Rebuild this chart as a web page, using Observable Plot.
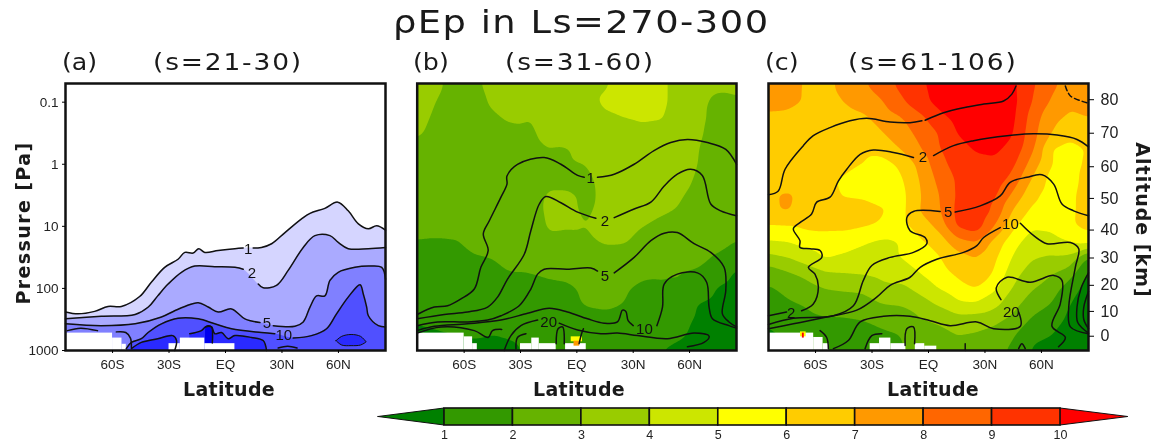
<!DOCTYPE html>
<html><head><meta charset="utf-8">
<script src="https://cdn.jsdelivr.net/npm/d3@7"></script>
<script src="https://cdn.jsdelivr.net/npm/@observablehq/plot@0.6"></script>
<style>
html,body{margin:0;padding:0;background:#fff}
#page{position:relative;width:1158px;height:445px;overflow:hidden;filter:blur(0.6px)}
#page svg{position:absolute;left:0;top:0}
.t{position:absolute;white-space:nowrap;font-family:"DejaVu Sans",sans-serif;color:#1a1a1a;line-height:1}
</style></head><body><div id="page"></div>
<script>
// ---- axis values
const latTicks=[-60,-30,0,30,60];
const latNames=["60S","30S","EQ","30N","60N"];
const pressureTicks=[0.1,1,10,100,1000];
const altitudeKm=[80,70,60,50,40,30,20,10,0];
const altitudeLogP=[-1.04,-0.50,0.04,0.55,1.06,1.51,1.95,2.37,2.77];
const barLevels=[1,2,3,4,5,6,7,8,9,10];
const barColors=["#008000","#339900","#66b300","#99cc00","#cce600","#ffff00","#ffcc00","#ff9900","#ff6600","#ff3300","#ff0000"];
// ---- grid of rho*Ep
const gridLat=[-85,-75,-65,-55,-45,-35,-25,-15,-5,5,15,25,35,45,55,65,75,85];
const gridLogP=[-1.31,-1,-0.75,-0.5,-0.25,0,0.25,0.5,0.75,1,1.25,1.5,1.75,2,2.25,2.5,2.75,3];
const fieldB=[
[3.4,3.2,2.7,2.8,3.3,3.5,3.6,3.7,3.7,3.8,3.9,4.3,4.4,4.15,3.7,3.4,3.2,3.2],
[3.3,3.0,2.6,2.7,3.1,3.4,3.5,3.6,3.7,3.8,4.1,4.4,4.4,4.15,3.7,3.2,2.8,2.9],
[3.2,2.9,2.5,2.6,2.9,3.1,3.0,3.3,3.6,3.8,3.9,3.97,4.1,4.05,3.6,3.2,2.7,2.8],
[3.1,2.8,2.5,2.5,2.7,2.8,2.9,3.2,3.5,3.7,3.8,3.8,3.8,3.7,3.5,3.1,2.7,2.7],
[2.8,2.7,2.5,2.5,2.6,2.7,2.8,3.0,2.95,3.3,3.6,3.7,3.7,3.6,3.4,3.0,2.7,2.6],
[2.7,2.6,2.5,2.4,2.5,2.6,2.7,2.8,2.9,3.0,3.4,3.6,3.6,3.5,3.3,2.98,2.6,2.6],
[2.6,2.5,2.4,2.4,2.4,2.5,2.6,2.8,2.8,2.9,3.15,3.5,3.6,3.5,3.2,2.9,2.6,2.6],
[2.6,2.5,2.4,2.4,2.4,2.5,2.6,3.1,3.1,2.9,3.1,3.4,3.5,3.3,3.05,2.8,2.5,2.4],
[2.5,2.5,2.4,2.4,2.4,2.4,2.5,3.2,3.15,2.9,3.2,3.3,3.4,3.1,2.95,2.7,2.5,2.4],
[2.3,2.3,2.3,2.3,2.3,2.4,2.5,3.1,3.05,3.0,3.2,3.2,3.0,2.8,2.7,2.6,2.4,2.3],
[1.95,1.9,1.95,2.2,2.3,2.3,2.4,2.8,2.8,2.9,3.05,3.05,2.8,2.6,2.5,2.4,2.3,2.0],
[1.7,1.6,1.7,1.95,2.0,2.2,2.4,2.6,2.6,2.7,2.8,2.7,2.6,2.5,2.4,2.2,1.9,1.3],
[1.6,1.5,1.5,1.6,1.9,2.0,2.0,2.2,2.3,2.5,2.5,2.4,2.2,2.1,2.0,1.9,1.4,0.9],
[1.4,1.4,1.4,1.4,1.5,1.6,1.7,1.7,1.8,2.2,2.3,2.1,1.8,1.9,2.05,1.6,0.95,0.7],
[1.3,1.3,1.3,1.3,1.4,1.4,1.5,1.6,1.7,2.1,2.2,2.0,1.6,1.5,1.4,0.95,0.7,0.6],
[1.1,1.2,1.2,1.2,1.3,1.3,1.4,1.4,1.5,1.6,1.7,1.6,1.5,1.4,1.2,0.9,0.7,0.6],
[0.8,0.9,1.0,1.1,1.0,1.1,1.3,1.5,1.6,1.7,1.5,1.4,1.4,1.3,1.1,0.8,0.6,0.5],
[0.7,0.7,0.7,0.7,0.7,0.8,1.2,1.5,1.6,1.8,1.4,1.2,1.1,1.0,0.8,0.6,0.5,0.5]];
const fieldC=[
[7.4,7.4,6.9,6.7,7.3,7.9,8.5,9.3,9.8,10.4,10.8,11,11,10.2,9.2,8.3,7.6,7.4],
[7.3,7.3,6.9,6.6,7.0,7.4,7.9,8.8,9.6,10.3,10.8,11,11,10.3,9.0,7.9,7.2,7.3],
[6.8,6.7,6.5,6.5,6.6,6.8,7.4,7.9,8.7,9.6,10.3,10.8,10.8,10.2,8.6,7.3,6.8,7.0],
[6.4,6.4,6.4,6.4,6.4,6.6,6.9,7.6,8.2,9.0,10.0,10.6,10.7,10.05,8.4,7.0,6.4,6.6],
[6.3,6.3,6.3,6.3,6.3,6.3,6.5,7.0,7.9,8.9,9.6,10.1,10.2,9.7,8.2,6.0,5.6,6.1],
[6.3,6.2,6.2,6.2,6.15,6.0,5.5,6.2,7.2,8.6,9.4,9.7,9.8,9.2,7.6,6.0,5.6,6.2],
[6.3,6.2,6.2,6.1,5.95,5.4,5.3,5.8,7.0,8.2,9.1,9.6,9.6,8.6,6.9,5.7,5.6,6.4],
[6.8,7.2,6.6,6.3,5.95,5.9,5.7,5.6,6.9,7.9,9.1,9.5,9.2,7.8,6.3,5.5,5.7,6.6],
[6.9,7.1,6.5,6.3,6.3,6.3,6.1,5.6,7.0,7.8,9.2,9.9,8.8,6.9,5.8,5.4,5.7,6.6],
[5.9,5.95,6.2,6.3,6.3,6.1,5.9,5.6,6.4,7.2,9.1,9.6,8.0,6.2,5.1,5.2,5.8,6.3],
[4.9,5.0,5.4,5.4,5.3,5.1,4.8,5.0,5.8,6.4,7.6,8.0,6.7,5.3,4.6,4.6,5.0,5.3],
[3.7,4.0,4.6,5.1,4.9,4.7,4.8,5.0,5.3,5.9,6.6,7.0,6.2,4.9,4.1,3.9,3.8,1.8],
[2.4,2.9,3.3,3.9,4.0,4.1,4.3,4.6,5.0,5.6,6.2,6.9,5.9,4.4,3.5,3.1,2.5,0.9],
[1.9,2.2,2.6,3.0,3.1,3.2,3.7,3.7,4.3,5.0,5.5,6.0,5.2,3.9,3.1,2.6,1.4,0.7],
[1.5,1.9,2.1,2.5,2.6,2.6,3.0,3.1,3.5,4.1,4.8,4.9,4.3,3.4,2.4,2.0,1.0,0.6],
[1.1,1.4,1.7,1.9,1.9,2.0,2.3,2.3,2.9,3.2,3.6,3.5,3.3,2.7,1.9,1.5,0.8,0.5],
[0.9,1.1,1.3,1.3,1.5,1.7,1.8,2.0,2.4,2.6,3.0,2.9,2.6,2.1,1.2,1.0,0.7,0.5],
[0.8,0.9,1.0,1.0,1.2,1.4,1.6,1.9,2.3,2.4,2.7,2.6,2.3,1.8,0.9,0.8,0.6,0.5]];
// ---- contours: [lat, log10 Pa], null = gap at the label
const a1=[[-85,2.38],[-78.4,2.41],[-69.5,2.37],[-62.4,2.29],[-55.3,2.29],[-45.6,2.13],[-39.4,1.9],[-32.3,1.66],[-25.2,1.53],[-21.6,1.42],[-17.2,1.43],[-14.2,1.36],[-11,1.42],[-3.9,1.39],[5,1.36],[9.4,1.35],null,[14.7,1.35],[19.1,1.34],[24.5,1.28],[31.6,1.1],[40.4,0.88],[44.9,0.79],[52.8,0.71],[59.6,0.61],[65.2,0.75],[70.6,0.96],[75.9,1.04],[80.3,0.99],[85,1.06]];
const a2=[[-85,2.49],[-66,2.45],[-48,2.42],[-41,2.3],[-36,2.12],[-30.5,1.93],[-23.4,1.74],[-16.3,1.64],[-5.7,1.65],[5,1.66],[9.4,1.69],null,[17.4,1.93],[20,1.99],[27.1,1.95],[33.3,1.71],[41.3,1.34],[47.5,1.15],[55.5,1.15],[59.9,1.26],[65.2,1.36],[75.9,1.36],[85,1.34]];
const a5=[[-85,2.57],[-66,2.6],[-48,2.57],[-34,2.46],[-27,2.36],[-21.6,2.29],[-14.5,2.23],[-9.2,2.3],[-3.9,2.38],[3.2,2.33],[10.3,2.49],[18.3,2.55],null,[25.4,2.6],[36.9,2.61],[41.3,2.54],[44.9,2.3],[48.4,2.12],[52.8,2.12],[55.5,1.87],[59.9,1.74],[68.8,1.66],[75.9,1.64],[83,1.66],[85,1.85]];
const a10=[[-52.7,2.97],[-50,2.87],[-44.7,2.81],[-41.1,2.71],[-34,2.57],[-25.2,2.48],[-14.5,2.49],[-5.7,2.57],[3.2,2.65],[19.1,2.71],[26.2,2.73],null,[36,2.8],[45.7,2.76],[53.7,2.65],[59,2.41],[65.2,2.14],[71.5,1.94],[73.2,2.09],[75,2.3],[75.9,2.44],[81.2,2.6],[85,2.62]];
const a20west=[[-50,2.97],[-44.7,2.87],[-36,2.81],[-28,2.76],[-26,2.84],[-27,3]];
const a20mid=[[-19,2.73],[-12.8,2.68],[-10.6,2.62],[-7.4,2.62],[-5.7,2.73],[-2.1,2.71],[1.4,2.81],[5,2.76],[13.8,2.79],[20,2.84],[21.8,3]];
const a50spike=[[-10.6,2.62],[-9,2.6],[-7.4,2.62],[-7,2.88]];
const a20north=[[59,2.85,2.85],[62,2.78,2.92],[67,2.75,2.93],[72,2.78,2.92],[75,2.87,2.87]];
const aExtras=[[[-84,2.68],[-77,2.64],[-68,2.68]],[[-58,2.7],[-53,2.71],[-50.5,2.8],[-50,2.95]],[[28,2.96],[33,2.93],[38,2.96]]];
const b1=[[-85,2.42],[-75.9,2.3],[-68.8,2.28],[-61.7,2.17],[-54.6,2.01],[-51.1,1.66],[-47.2,1.39],[-49.8,1.12],[-46.6,0.91],[-40.4,0.53],[-37.2,0.32],[-37.2,0.19],[-31.6,0],[-17.4,-0.11],[-8.5,0],[0.4,0.18],[3.9,0.21],null,[11,0.21],[19.9,0.16],[30.5,0],[41.1,-0.22],[50,-0.35],[58.9,-0.4],[69.5,-0.35],[79.3,-0.24],[85,0]];
const b2=[[-85,2.49],[-70.6,2.42],[-58.2,2.38],[-47.5,2.3],[-42.2,2.14],[-36.9,1.85],[-28,1.45],[-24.5,1.07],[-20,0.64],[-16.5,0.52],[-8.5,0.62],[0.4,0.77],[10.1,0.87],null,[19.9,0.86],[30.5,0.72],[39.4,0.61],[46.5,0.35],[53.5,0.16],[60.6,0.08],[66.8,0.18],[71.3,0.64],[76.6,0.75],[85,0.83]];
const b5=[[-85,2.6],[-74.1,2.54],[-58.2,2.54],[-47.5,2.51],[-40.4,2.44],[-30.7,2.28],[-24.5,2.01],[-20.9,1.77],[-17.4,1.69],[-5,1.69],[7.4,1.67],[11,1.72],null,[19.9,1.75],[30.5,1.5],[39.4,1.23],[46.5,1.11],[53.5,1.1],[62.4,1.28],[71.3,1.42],[78.4,1.66],[79.3,2.03],[77.5,2.41],[81,2.54],[85,2.62]];
const b10=[[-85,2.68],[-75.9,2.61],[-58.2,2.57],[-40.4,2.51],[-26.2,2.4],[-14.7,2.32],[-5,2.38],[5.7,2.49],[14.5,2.56],[21.6,2.54],[24.3,2.35],[26.1,2.37],[27.3,2.52],[30,2.6],null,[42.6,2.6],[45.6,2.3],[46.5,1.93],[53.5,1.77],[64.2,1.75],[69.1,1.9],[70.4,2.3],[72.2,2.49],[81,2.6],[85,2.64]];
const b20=[[-38.7,3],[-35.1,2.76],[-29.8,2.6],[-20.9,2.51],null,[-9.4,2.56],[0.4,2.67],[12.8,2.73],[21.6,2.72],[32.3,2.76],[48.2,2.81],[62.4,2.72],[70.4,2.77],[67.7,2.87],[58.9,2.94]];
const bExtras=[[[-85,2.72],[-72.3,2.62],[-54.6,2.68],[-47.2,2.79],[-44.9,2.68],[-40,2.66]],[[-11,2.89],[-10,2.65],[-7.6,2.62],[-6.7,2.89]],[[1.2,2.89],[2.5,2.73],[3.5,2.65]],[[-32.4,2.97],[-31.6,2.79],[-27.1,2.73]]];
const c1=[[-85,0.49],[-79.8,0.43],[-76.2,0.08],[-66.5,-0.3],[-61.2,-0.46],[-52.3,-0.59],[-41.7,-0.7],[-32.8,-0.74],[-20.4,-0.68],[-9.8,-0.67],[-3.5,-0.7],null,[-1.8,-0.71],[8,-0.83],[18.6,-0.91],[29.3,-0.97],[39.9,-1.02],[44.3,-1.13],[46.5,-1.26]];
const c1dash=[[72.7,-1.26],[75.4,-1.1],[84.2,-0.99]];
const c2=[[-85,2.44],[-75.4,2.38],null,[-67.4,2.36],[-61.2,2.25],[-58.5,1.98],[-60.3,1.77],[-63.8,1.66],[-56.7,1.5],[-57.6,1.39],[-62.9,1.36],[-68.3,1.34],[-68.3,1.23],[-71.8,1.04],[-68.3,0.94],[-62.1,0.8],[-59.4,0.61],[-52.3,0.53],[-47.9,0.27],[-43.4,0.08],[-36.3,-0.16],[-29.3,-0.23],[-18.6,-0.19],[-8,-0.11],null,[2.7,-0.14],[13.3,-0.3],[23.9,-0.38],[41.7,-0.46],[55.9,-0.49],[68.3,-0.47],[78.9,-0.4],[85,-0.28]];
const c5=[[-85,2.58],[-71.8,2.48],[-50.5,2.44],[-39.9,2.28],[-34.6,1.87],[-30.1,1.63],[-20.4,1.5],[-8,1.42],[-0.9,1.28],[-1.8,1.18],[-9.8,1.07],[-11.5,0.86],[-8,0.76],[6.2,0.76],null,[14.2,0.77],[27.5,0.67],[38.1,0.51],[43.4,0.29],[52.3,0.21],[60.3,0.17],[66.5,0.32],[70.9,0.64],[77.1,0.75],[85,0.83]];
const c10=[[-85,2.65],[-71.8,2.57],[-54.1,2.46],[-38.1,2.35],[-27.5,2.14],[-20.4,1.95],[-9.8,1.82],[-4.4,1.66],[4.4,1.53],[18.6,1.42],[25.7,1.31],[29.3,1.18],[38.1,1.02],null,[48.8,0.95],[55.9,1.15],[62.9,1.28],[75.4,1.26],[79.8,1.36],[78,1.66],[74.5,2.3],[75.4,2.62],[85,2.73]];
const c20=[[-50.5,2.97],[-42.6,2.84],[-36.3,2.54],[-23.9,2.45],[-9.8,2.45],[0.9,2.52],[11.5,2.6],[25.7,2.54],[34.6,2.65],[48.8,2.61],[47.9,2.38],null,[38.5,2.18],[36,1.99],[41.7,1.82],[54.1,1.9],[66.5,1.79],[70.9,1.87],[70,2.25],[65.6,2.61],[72.7,2.79],[69.1,2.94]];
const cExtras=[[[85,1.75],[81,2],[78.9,2.3],[79.3,2.55],[85,2.72]],[[85,2.05],[82.5,2.3],[82.5,2.5],[85,2.65]],[[-33.7,2.97],[-30.1,2.76],[-24.8,2.73]],[[-12.4,2.92],[-11.5,2.65],[-8,2.62],[-7.4,2.89]],[[-57.6,2.68],[-54.1,2.79],[-53.2,2.97]],[[47.9,2.97],[49.6,2.89],[51.4,2.97]],[[19.5,2.89],[19.5,3]]];
// ---- contour labels: lat, log10 Pa, text
const aLabels=[[12,1.36,"1"],[14,1.75,"2"],[22,2.56,"5"],[31,2.75,"10"]];
const bLabels=[[7.4,0.23,"1"],[15,0.92,"2"],[15,1.8,"5"],[36,2.66,"10"],[-15,2.54,"20"]];
const cLabels=[[-73,2.4,"2"],[-3,-0.12,"2"],[10.5,0.78,"5"],[43.5,0.96,"10"],[44,2.38,"20"]];
// ---- no-data boxes and isolated spots: lat1, lat2, logP top
const missA=[[-85,-60,2.72],[-60,-55,2.8],[-55,-52.7,2.9],[-30,-24,2.89],[-24,-11,2.8],[-11,5,2.89]];
const missB=[[-85,-60,2.72],[-60,-55.5,2.78],[-55.5,-53,2.89],[-30,-24,2.89],[-24,-20,2.8],[-20,-11,2.89],[-6,5,2.89]];
const missC=[[-85,-61,2.72],[-61,-56,2.79],[-56,-53,2.89],[-31,-26,2.89],[-26,-20,2.8],[-20,-12,2.89],[-7,-2,2.89],[-2,4.4,2.93]];
const spotsB=[[-3,3,2.78,5.5],[-1.5,1.5,2.85,7.5]];
const spotsC=[[-68,-65,2.7,5.5],[-67,-66,2.72,10.5]];
const blues=["#d5d5ff","#aaaaff","#8080ff","#5050ff","#2a2aff","#0000ee"];

const P=l=>10**l;
const pts=list=>list.map(q=>q?{lat:q[0],p:P(q[1])}:{lat:NaN,p:NaN});
const solid=list=>pts(list).filter(d=>!isNaN(d.lat));
const gridTable=f=>gridLogP.flatMap((l,j)=>gridLat.map((lat,i)=>({lat,p:P(l),v:f[j][i]})));
const W=1158,H=445;
const lineM=(l,o={})=>Plot.line(pts(l),{x:"lat",y:"p",stroke:"#111",strokeWidth:1.5,curve:"catmull-rom",...o});
const areaM=(l,fill)=>Plot.areaY(solid(l),{x:"lat",y1:1000,y2:"p",fill,curve:"catmull-rom"});
const missM=m=>Plot.rect(m,{x1:d=>d[0],x2:d=>d[1],y1:d=>P(d[2]),y2:1000,fill:"white"});
const labelM=m=>Plot.text(m,{x:d=>d[0],y:d=>P(d[1]),text:d=>d[2],fontSize:15,fontFamily:"Liberation Sans",fill:"#111"});
const xAxisM=()=>Plot.axisX({ticks:latTicks,tickFormat:d=>latNames[latTicks.indexOf(d)],tickSize:3,tickPadding:6,fontSize:13.5,fontFamily:"Liberation Sans",label:null,fill:"#222"});
const frameM=()=>Plot.frame({stroke:"#111",strokeWidth:2.5});
function panel(left,right,marks){
  return Plot.plot({width:W,height:H,marginLeft:left,marginRight:W-right,marginTop:83,marginBottom:H-350,
    style:{background:"transparent",overflow:"visible"},
    x:{domain:[-85,85],axis:null},
    y:{type:"log",domain:[1000,0.05],axis:null},
    color:{type:"threshold",domain:barLevels,range:barColors},
    marks});
}
function fieldMarks(f){return Plot.contour(gridTable(f),{x:"lat",y:"p",fill:"v",thresholds:[0,...barLevels],interpolate:"barycentric",pixelSize:1,blur:3,stroke:"none"});}
function spotM(s){return Plot.rect(s,{x1:d=>d[0],x2:d=>d[1],y1:d=>P(d[2]),y2:d=>P(d[2]+0.08),fill:d=>d[3]});}

const page=document.getElementById("page");
// panel (a)
page.append(panel(65,385,[
  areaM(a1,blues[0]),areaM(a2,blues[1]),areaM(a5,blues[2]),areaM(a10,blues[3]),
  areaM(a20west,blues[4]),areaM(a20mid,blues[4]),
  Plot.areaY(a20north,{x:d=>d[0],y1:d=>P(d[1]),y2:d=>P(d[2]),fill:blues[4],stroke:"#111",curve:"catmull-rom"}),
  areaM(a50spike,blues[5]),
  missM(missA),
  lineM(a1),lineM(a2),lineM(a5),lineM(a10),lineM(a20west),lineM(a20mid),lineM(a50spike),
  ...aExtras.map(l=>lineM(l)),
  labelM(aLabels),
  frameM(),xAxisM(),
  Plot.axisY({ticks:pressureTicks,tickFormat:d=>String(d),tickSize:3,tickPadding:4,fontSize:13.5,fontFamily:"Liberation Sans",label:null,fill:"#222"})
]));
// panel (b)
page.append(panel(416.7,736,[
  fieldMarks(fieldB),missM(missB),spotM(spotsB),
  lineM(b1),lineM(b2),lineM(b5),lineM(b10),lineM(b20),...bExtras.map(l=>lineM(l)),
  labelM(bLabels),frameM(),xAxisM()
]));
// panel (c)
page.append(panel(768,1088,[
  fieldMarks(fieldC),missM(missC),spotM(spotsC),
  lineM(c1),lineM(c1dash,{strokeDasharray:"5,3"}),lineM(c2),lineM(c5),lineM(c10),lineM(c20),...cExtras.map(l=>lineM(l)),
  labelM(cLabels),frameM(),xAxisM(),
  Plot.axisY({anchor:"right",ticks:altitudeLogP.map(P),text:null,tickSize:5,label:null}),
  Plot.text(altitudeKm,{y:(d,i)=>P(altitudeLogP[i]),text:d=>String(d),frameAnchor:"right",textAnchor:"start",dx:12,fontSize:16,fontFamily:"Liberation Sans",fill:"#222"})
]));
// colour bar
const bandData=barLevels.slice(0,-1).map((v,i)=>({a:v,b:barLevels[i+1],v}));
const tipL=[{x:0.035,u:0,d:0},{x:1,u:1,d:-1}], tipR=[{x:10,u:1,d:-1},{x:10.99,u:0,d:0}];
page.append(Plot.plot({width:W,height:H,marginLeft:444,marginRight:W-1060,marginTop:408,marginBottom:H-425,
  style:{background:"transparent",overflow:"visible"},
  x:{domain:[1,10],axis:null},y:{domain:[-1,1],axis:null},
  color:{type:"threshold",domain:barLevels,range:barColors},
  marks:[
    Plot.areaY(tipL,{x:"x",y1:"d",y2:"u",fill:barColors[0],stroke:"#111",strokeWidth:1}),
    Plot.areaY(tipR,{x:"x",y1:"d",y2:"u",fill:barColors[10],stroke:"#111",strokeWidth:1}),
    Plot.rect(bandData,{x1:"a",x2:"b",y1:-1,y2:1,fill:"v",stroke:"#111",strokeWidth:1.6}),
    Plot.axisX({ticks:barLevels,tickSize:0,tickPadding:5,fontSize:12.5,fontFamily:"Liberation Sans",label:null,fill:"#222"})
  ]}));
// text
const texts=[
 ["ρEp in Ls=270-300",393,6,32,1.15,"1.3px",400],
 ["(a)",62,51,23,1.1,"0",400],["(s=21-30)",153,51,23,1.15,"1.6px",400],
 ["(b)",413,51,23,1.1,"0",400],["(s=31-60)",505,51,23,1.15,"1.6px",400],
 ["(c)",765,51,23,1.1,"0",400],["(s=61-106)",848,51,23,1.15,"1.7px",400],
 ["Latitude",183,380,19,1,"0.3px",700],["Latitude",533,380,19,1,"0.3px",700],["Latitude",887,380,19,1,"0.3px",700]
];
for(const [s,x,y,fs,sx,ls,w] of texts){const d=document.createElement("div");d.className="t";d.textContent=s;
 d.style.cssText=`left:${x}px;top:${y}px;font-size:${fs}px;letter-spacing:${ls};font-weight:${w};transform-origin:left top;transform:scaleX(${sx})`;page.append(d);}
const rot=(s,cx,cy,deg,ls)=>{const d=document.createElement("div");d.className="t";d.textContent=s;
 d.style.cssText=`left:${cx}px;top:${cy}px;font-size:19px;font-weight:700;letter-spacing:${ls};transform:translate(-50%,-50%) rotate(${deg}deg)`;page.append(d);};
rot("Pressure [Pa]",23,223,-90,"1.4px");
rot("Altitude [km]",1142,220,90,"1px");
</script></body></html>
